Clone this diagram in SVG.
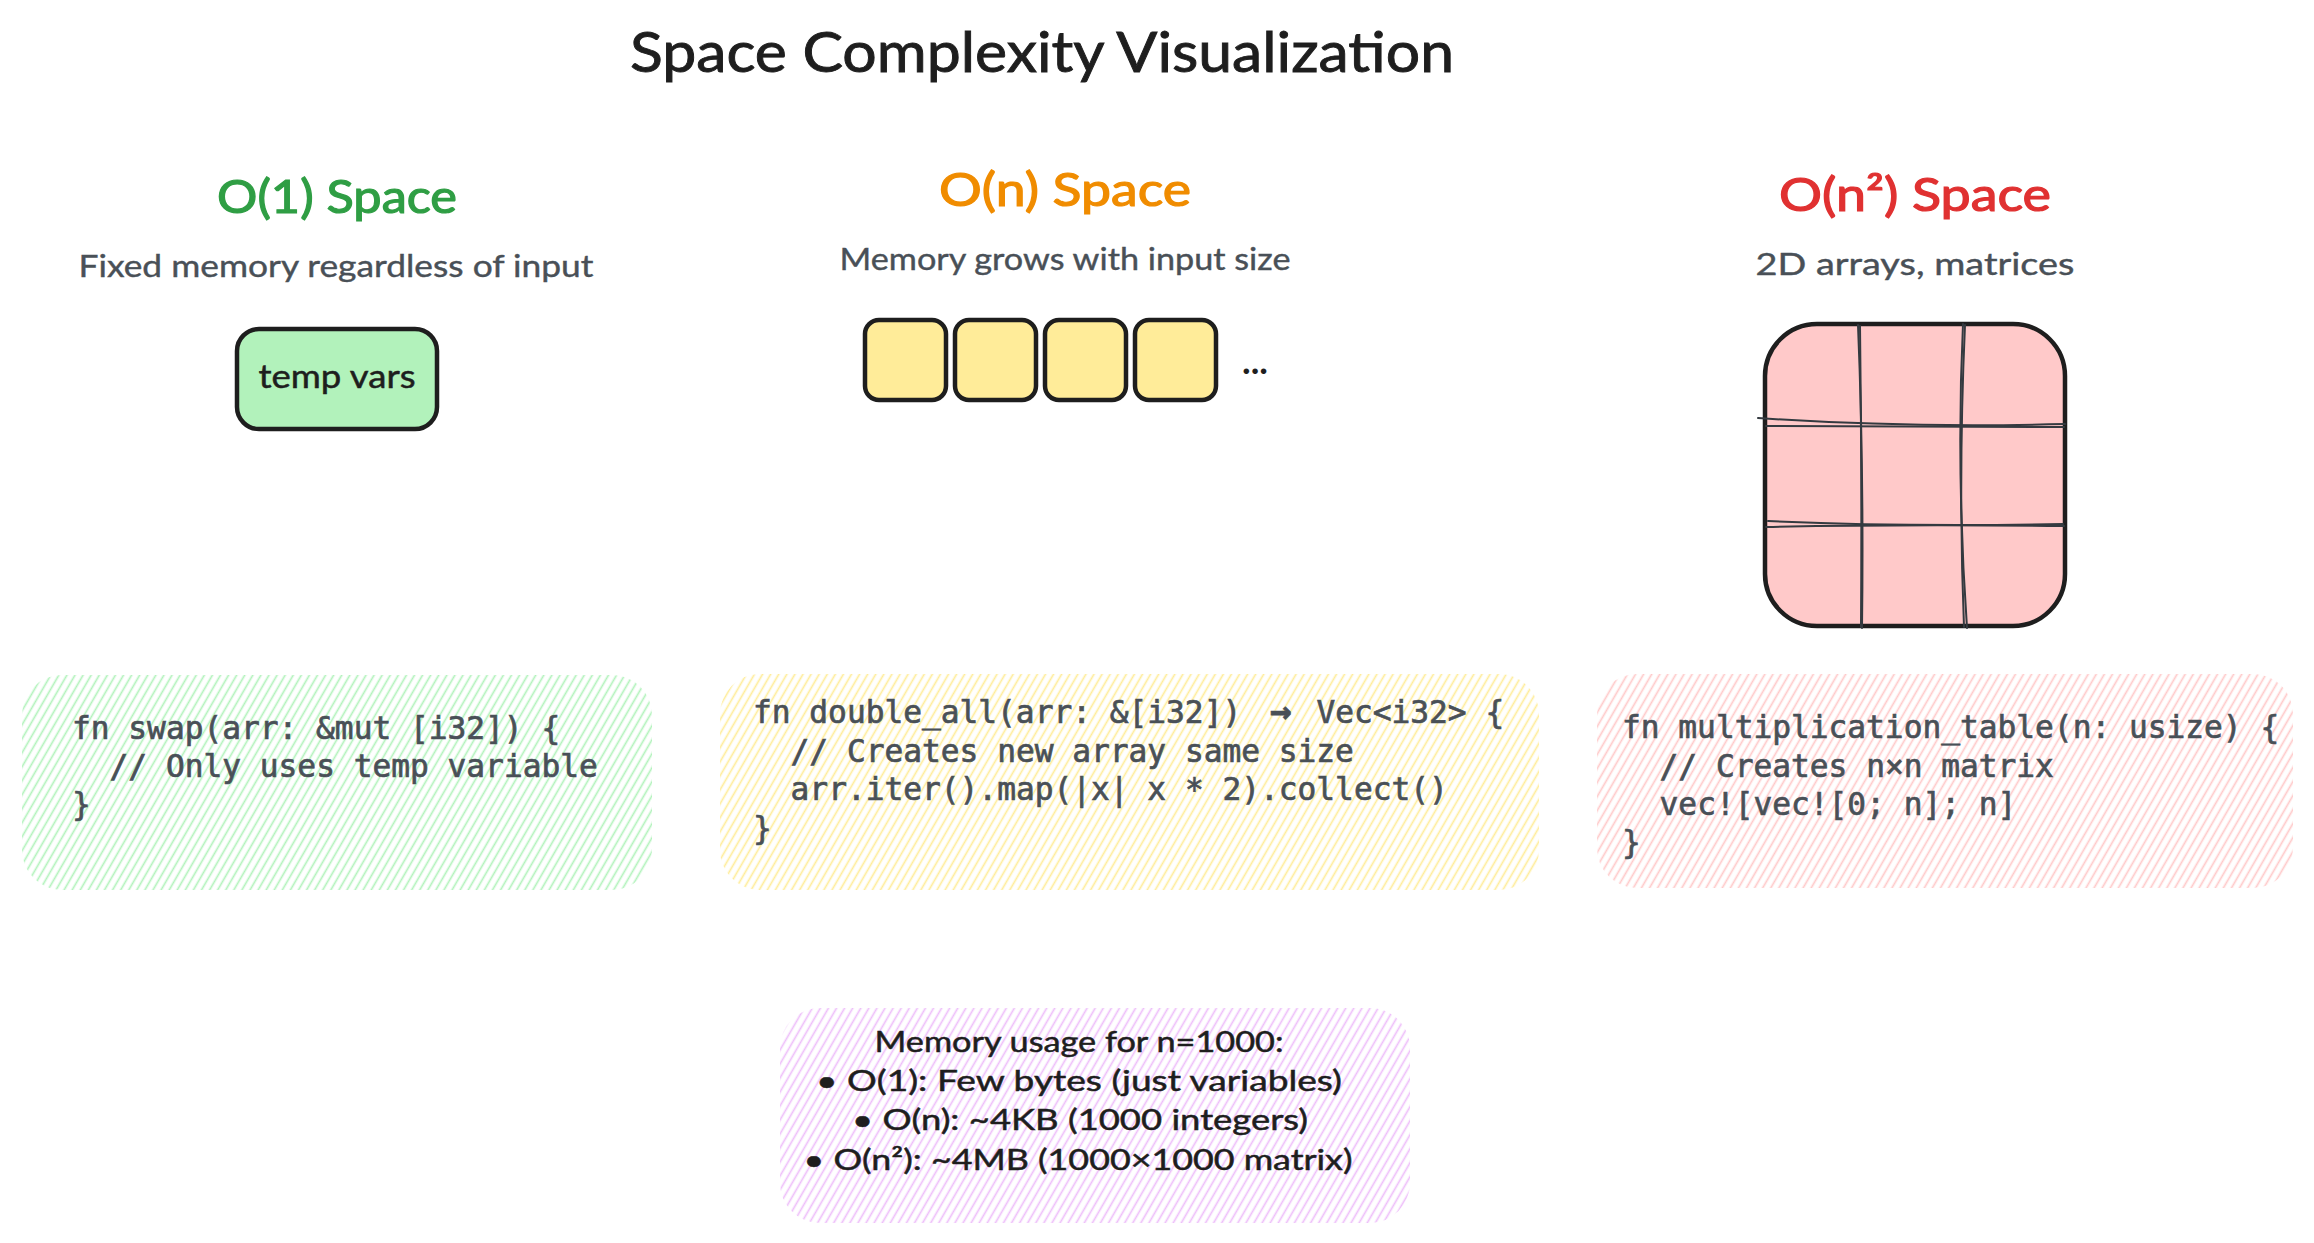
<svg xmlns="http://www.w3.org/2000/svg" width="2314" height="1243" viewBox="0 0 2314 1243">
  <defs>
    <pattern id="hGreen" width="7" height="7" patternUnits="userSpaceOnUse" patternTransform="rotate(30)">
      <line x1="3.5" y1="-1" x2="3.5" y2="8" stroke="#b2f2bb" stroke-width="1.7"/>
    </pattern>
    <pattern id="hYellow" width="7" height="7" patternUnits="userSpaceOnUse" patternTransform="rotate(30)">
      <line x1="3.5" y1="-1" x2="3.5" y2="8" stroke="#ffec99" stroke-width="1.7"/>
    </pattern>
    <pattern id="hRed" width="7" height="7" patternUnits="userSpaceOnUse" patternTransform="rotate(30)">
      <line x1="3.5" y1="-1" x2="3.5" y2="8" stroke="#ffc9c9" stroke-width="1.7"/>
    </pattern>
    <pattern id="hPurple" width="7" height="7" patternUnits="userSpaceOnUse" patternTransform="rotate(30)">
      <line x1="3.5" y1="-1" x2="3.5" y2="8" stroke="#eebefa" stroke-width="1.7"/>
    </pattern>
  </defs>
  <style>
    .hand { font-family: Lato, "Liberation Sans", sans-serif; }
    .title { font-size: 56px; fill: #1e1e1e; stroke: #1e1e1e; stroke-width: 0.9; }
    .head { font-size: 46px; stroke-width: 1.2; }
    .sub { font-size: 30px; fill: #495057; stroke: #495057; stroke-width: 0.4; }
    .lbl { font-size: 32px; fill: #1e1e1e; stroke: #1e1e1e; stroke-width: 0.5; }
    .note { font-size: 29px; fill: #1e1e1e; stroke: #1e1e1e; stroke-width: 0.5; }
    .code { font-family: "DejaVu Sans Mono", "Liberation Mono", monospace; font-size: 31.2px; fill: #495057; stroke: #495057; stroke-width: 0.7; }
    .box { stroke: #1e1e1e; stroke-width: 4.5; stroke-linejoin: round; }
    .grid { fill: none; stroke: #343a40; stroke-width: 2; stroke-linecap: round; }
  </style>
  <rect width="2314" height="1243" fill="#ffffff"/>

  <g id="title">
    <text class="hand title" x="1042" y="72" text-anchor="middle" textLength="824" lengthAdjust="spacingAndGlyphs">Space Complexity Visualization</text>
  </g>

  <g id="o1-header">
    <text class="hand head" x="337" y="213" text-anchor="middle" fill="#2f9e44" stroke="#2f9e44" textLength="240" lengthAdjust="spacingAndGlyphs">O(1) Space</text>
    <text class="hand sub" x="336" y="277" text-anchor="middle" textLength="515" lengthAdjust="spacingAndGlyphs">Fixed memory regardless of input</text>
  </g>

  <g id="temp-vars">
    <rect class="box" x="237" y="329" width="200" height="100" rx="22" fill="#b2f2bb"/>
    <text class="hand lbl" x="337" y="388" text-anchor="middle" textLength="157" lengthAdjust="spacingAndGlyphs">temp vars</text>
  </g>

  <g id="on-header">
    <text class="hand head" x="1065" y="206" text-anchor="middle" fill="#f08c00" stroke="#f08c00" textLength="252" lengthAdjust="spacingAndGlyphs">O(n) Space</text>
    <text class="hand sub" x="1065" y="270" text-anchor="middle" textLength="451" lengthAdjust="spacingAndGlyphs">Memory grows with input size</text>
  </g>

  <g id="array-cells">
    <rect class="box" x="865" y="320" width="81" height="80" rx="14" fill="#ffec99"/>
    <rect class="box" x="955" y="320" width="81" height="80" rx="14" fill="#ffec99"/>
    <rect class="box" x="1045" y="320" width="81" height="80" rx="14" fill="#ffec99"/>
    <rect class="box" x="1135" y="320" width="81" height="80" rx="14" fill="#ffec99"/>
    <text class="hand" x="1242" y="374" font-size="36" font-weight="bold" fill="#1e1e1e" textLength="26" lengthAdjust="spacingAndGlyphs">...</text>
  </g>

  <g id="on2-header">
    <text class="hand head" x="1915" y="211" text-anchor="middle" fill="#e03131" stroke="#e03131" textLength="272" lengthAdjust="spacingAndGlyphs">O(n²) Space</text>
    <text class="hand sub" x="1915" y="275" text-anchor="middle" textLength="319" lengthAdjust="spacingAndGlyphs">2D arrays, matrices</text>
  </g>

  <g id="matrix">
    <rect class="box" x="1765" y="324" width="300" height="302" rx="52" fill="#ffc9c9"/>
    <path class="grid" d="M1858 325 Q1864 470 1862 628"/>
    <path class="grid" d="M1860 326 Q1862 480 1861 627"/>
    <path class="grid" d="M1963 324 Q1956 470 1967 628"/>
    <path class="grid" d="M1965 325 Q1958 480 1964 627"/>
    <path class="grid" d="M1758 418 Q1900 428 2065 424"/>
    <path class="grid" d="M1766 426 Q1900 427 2064 427"/>
    <path class="grid" d="M1768 521 Q1900 527 2063 524"/>
    <path class="grid" d="M1766 527 Q1900 524 2064 526"/>
  </g>

  <g id="code-o1">
    <rect x="22" y="675" width="630" height="215" rx="40" fill="url(#hGreen)"/>
    <text class="code" x="72" y="739">fn swap(arr: &amp;mut [i32]) {</text>
    <text class="code" x="109.6" y="777">// Only uses temp variable</text>
    <text class="code" x="72" y="815">}</text>
  </g>

  <g id="code-on">
    <rect x="720" y="674" width="819" height="216" rx="40" fill="url(#hYellow)"/>
    <text class="code" x="753" y="723">fn double_all(arr: &amp;[i32]) <tspan x="1270" font-size="36" font-weight="bold">→</tspan><tspan x="1316.4">Vec&lt;i32&gt; {</tspan></text>
    <text class="code" x="790.6" y="762">// Creates new array same size</text>
    <text class="code" x="790.6" y="800">arr.iter().map(|x| x * 2).collect()</text>
    <text class="code" x="753" y="839">}</text>
  </g>

  <g id="code-on2">
    <rect x="1597" y="674" width="696" height="214" rx="40" fill="url(#hRed)"/>
    <text class="code" x="1622" y="738">fn multiplication_table(n: usize) {</text>
    <text class="code" x="1659.6" y="777">// Creates n×n matrix</text>
    <text class="code" x="1659.6" y="815">vec![vec![0; n]; n]</text>
    <text class="code" x="1622" y="853">}</text>
  </g>

  <g id="memory-note">
    <rect x="780" y="1008" width="630" height="215" rx="40" fill="url(#hPurple)"/>
    <text class="hand note" x="1079" y="1052" text-anchor="middle" textLength="409" lengthAdjust="spacingAndGlyphs">Memory usage for n=1000:</text>
    <text class="hand note" x="1079" y="1091" text-anchor="middle" textLength="526" lengthAdjust="spacingAndGlyphs">• O(1): Few bytes (just variables)</text>
    <text class="hand note" x="1080" y="1130" text-anchor="middle" textLength="456" lengthAdjust="spacingAndGlyphs">• O(n): ~4KB (1000 integers)</text>
    <text class="hand note" x="1078" y="1170" text-anchor="middle" textLength="549" lengthAdjust="spacingAndGlyphs">• O(n²): ~4MB (1000×1000 matrix)</text>
  </g>

  <g id="connectors"/>
</svg>
